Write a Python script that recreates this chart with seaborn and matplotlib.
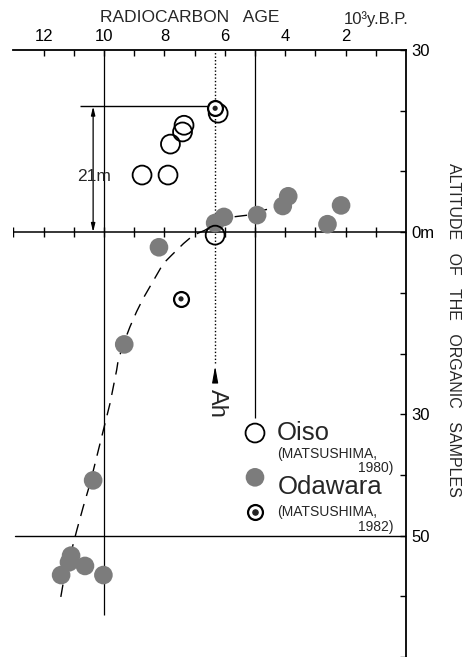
import numpy as np
import pandas as pd
import seaborn as sns
import matplotlib.pyplot as plt

# radiocarbon age (10^3 y.B.P.) and altitude (m)
oiso_age = [6.22, 7.35, 7.40, 7.80, 8.74, 7.88, 6.32]
oiso_alt = [19.6, 17.6, 16.5, 14.5, 9.4, 9.4, -0.5]

odawara_age = [6.03, 6.32, 4.93, 4.08, 3.90, 2.60, 2.15, 8.18, 9.33,
               10.36, 11.09, 11.16, 10.63, 11.42, 10.02]
odawara_alt = [2.5, 1.5, 2.8, 4.3, 5.9, 1.3, 4.4, -2.5, -18.5,
               -40.9, -53.3, -54.4, -55.0, -56.5, -56.5]

m1982_age = [6.32, 7.45]
m1982_alt = [20.4, -11.0]

curve_age = [11.43, 11.35, 11.13, 10.90, 10.69, 10.46, 10.24, 10.02, 9.80,
             9.58, 9.53, 9.31, 9.14, 8.92, 8.70, 8.48, 8.26, 8.04, 7.76,
             7.37, 7.04, 6.66, 6.30, 5.73, 5.23, 4.73, 4.27]
curve_alt = [-60.1, -57.8, -53.5, -49.1, -45.3, -41.4, -37.0, -32.6, -28.2,
             -22.7, -21.1, -17.8, -15.6, -13.1, -10.9, -9.0, -7.1, -5.2, -3.8,
             -1.9, -0.5, 0.3, 1.4, 2.5, 2.8, 3.6, 4.1]

age_ticks = list(range(1, 13))
age_labels = ["" if t % 2 else str(t) for t in age_ticks]
alt_ticks = [30, 20, 10, 0, -10, -20, -30, -40, -50, -60, -70]
alt_labels = ["30", "", "", "0m", "", "", "30", "", "50", "", ""]
zero_line_ticks = list(range(1, 14))

ah_age = 6.32     # Akahoya ash
step_21m = 20.7

sns.set_style("white")
plt.rcParams["font.family"] = ["Liberation Sans", "DejaVu Sans"]

fig = plt.figure(figsize=(4.7, 6.57), dpi=100)
ax = fig.add_axes([13.4 / 470, 0, (406 - 13.4) / 470, 607 / 657])
ax.set_xlim(13, 0)
ax.set_ylim(-70, 30)

for side in ["left", "bottom"]:
    ax.spines[side].set_visible(False)
for side in ["top", "right"]:
    ax.spines[side].set_linewidth(1.3)
    ax.spines[side].set_color("black")

ax.xaxis.tick_top()
ax.set_xticks(age_ticks)
ax.set_xticklabels(age_labels)
ax.yaxis.tick_right()
ax.set_yticks(alt_ticks)
ax.set_yticklabels(alt_labels)
ax.tick_params(direction="in", length=4, width=1, labelsize=12, pad=4,
               colors="black")

# reference lines
ax.axhline(0, color="black", lw=1.1)
ax.axhline(-50, xmin=0.004, color="black", lw=1.0)
ax.vlines(10, -63, 30, color="black", lw=0.9)
ax.vlines(5, -30.6, 30, color="black", lw=0.9)
sns.scatterplot(x=zero_line_ticks, y=[0] * len(zero_line_ticks), marker="|",
                s=50, color="black", linewidth=1.0, ax=ax, legend=False)

# Ah dotted line and arrow
ax.vlines(ah_age, -21.5, 30, color="black", lw=1.0, linestyles=(0, (1, 1.5)))
ax.annotate("", xy=(ah_age, -21.6), xytext=(ah_age, -24.8),
            arrowprops=dict(arrowstyle="-|>,head_length=1.0,head_width=0.18",
                            color="black", lw=0.8))
ax.text(ah_age - 0.05, -28.2, "Ah", rotation=-90, ha="center", va="center",
        fontsize=17)

# 21 m annotation
ax.hlines(step_21m, 10.8, ah_age, color="black", lw=1.0)
ax.annotate("", xy=(10.36, step_21m), xytext=(10.36, 0),
            arrowprops=dict(arrowstyle="<|-|>,head_length=0.5,head_width=0.12",
                            color="black", lw=0.9, shrinkA=0, shrinkB=0))
ax.text(10.9, 9.2, "21m", ha="left", va="center", fontsize=12.5)

# dashed trend curve
curve = pd.DataFrame({"age": curve_age, "alt": curve_alt})
sns.lineplot(data=curve, x="age", y="alt", sort=False, estimator=None,
             color="black", lw=1.0, dashes=False, ax=ax)
ax.lines[-1].set_dashes((9, 6))

# samples
sns.scatterplot(x=odawara_age, y=odawara_alt, s=180, color="#7c7c7c",
                edgecolor="none", ax=ax, legend=False, zorder=3)
sns.scatterplot(x=oiso_age, y=oiso_alt, s=185, facecolor="none",
                edgecolor="black", linewidth=1.3, ax=ax, legend=False, zorder=4)
sns.scatterplot(x=m1982_age, y=m1982_alt, s=115, facecolor="white",
                edgecolor="black", linewidth=1.6, ax=ax, legend=False, zorder=5)
sns.scatterplot(x=m1982_age, y=m1982_alt, s=14, color="#222222",
                edgecolor="none", ax=ax, legend=False, zorder=6)

# legend (drawn by hand, as in the original)
ax.scatter([5.0], [-33.1], s=185, facecolor="none", edgecolor="black",
           linewidth=1.3, zorder=4)
ax.scatter([5.0], [-40.4], s=180, color="#7c7c7c", edgecolor="none", zorder=3)
ax.scatter([5.0], [-46.1], s=115, facecolor="white", edgecolor="black",
           linewidth=1.6, zorder=5)
ax.scatter([5.0], [-46.1], s=14, color="#222222", zorder=6)
ax.text(4.27, -33.1, "Oiso", fontsize=18.5, ha="left", va="center")
ax.text(4.27, -36.5, "(MATSUSHIMA,", fontsize=10, ha="left", va="center")
ax.text(0.43, -38.9, "1980)", fontsize=10, ha="right", va="center")
ax.text(4.25, -42.0, "Odawara", fontsize=18.5, ha="left", va="center")
ax.text(4.27, -46.1, "(MATSUSHIMA,", fontsize=10, ha="left", va="center")
ax.text(0.43, -48.6, "1982)", fontsize=10, ha="right", va="center")

ax.set_xlabel("")
ax.set_ylabel("")

fig.text(190 / 470, 1 - 17 / 657, "RADIOCARBON   AGE", ha="center",
         va="center", fontsize=12.5)
fig.text(376 / 470, 1 - 19 / 657, "10³y.B.P.", ha="center", va="center",
         fontsize=12)
fig.text(453 / 470, 1 - 330 / 657, "ALTITUDE   OF   THE   ORGANIC   SAMPLES",
         rotation=-90, ha="center", va="center", fontsize=11.5)

fig.savefig("out.png", dpi=100)
